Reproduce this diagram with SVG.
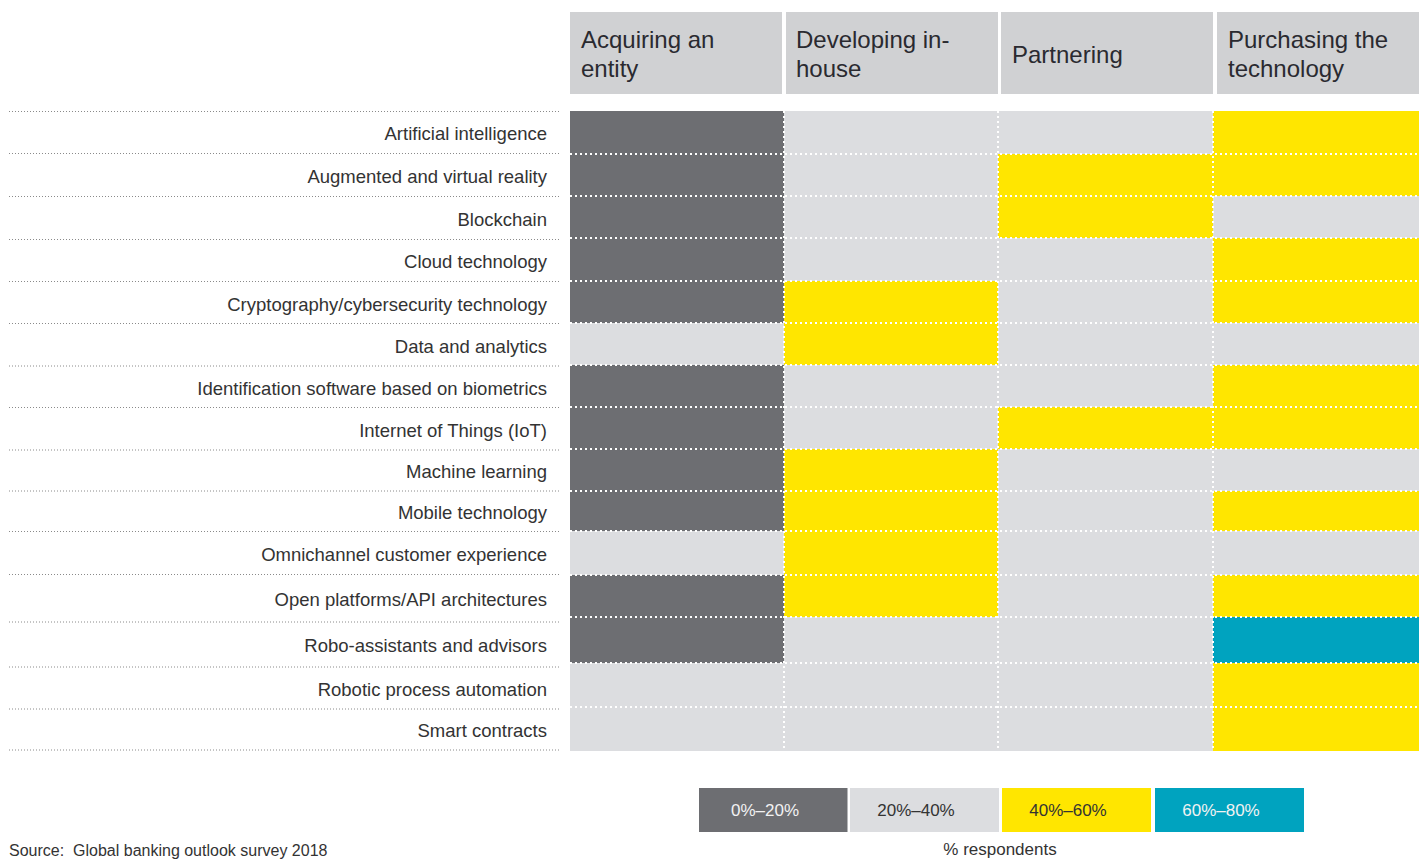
<svg xmlns="http://www.w3.org/2000/svg" width="1419" height="860" viewBox="0 0 1419 860">
<style>
.hdr{fill:#d0d1d3}
.ht{font-family:"Liberation Sans",Arial,sans-serif;font-size:24px;fill:#2a2a30}
.lbl{font-family:"Liberation Sans",Arial,sans-serif;font-size:18.5px;fill:#333333;text-anchor:end}
.D{fill:#6d6e72}
.L{fill:#dcdde0}
.Y{fill:#ffe600}
.T{fill:#00a3bf}
.gl{stroke:#ffffff;stroke-width:2;stroke-dasharray:2 3;fill:none}
.ll{stroke:#8a8a8a;stroke-width:1;stroke-dasharray:1 2;fill:none}
.lg{font-family:"Liberation Sans",Arial,sans-serif;font-size:17px;text-anchor:middle}
.src{font-family:"Liberation Sans",Arial,sans-serif;font-size:16px;fill:#333333}
</style>
<rect width="1419" height="860" fill="#ffffff"/>
<g id="headers">
  <g id="h-acquiring"><rect class="hdr" x="570" y="12" width="212" height="82"/><text class="ht" x="581" y="48">Acquiring an</text><text class="ht" x="581" y="77">entity</text></g>
  <g id="h-developing"><rect class="hdr" x="786" y="12" width="212" height="82"/><text class="ht" x="796" y="48">Developing in-</text><text class="ht" x="796" y="77">house</text></g>
  <g id="h-partnering"><rect class="hdr" x="1001" y="12" width="212" height="82"/><text class="ht" x="1012" y="63">Partnering</text></g>
  <g id="h-purchasing"><rect class="hdr" x="1217" y="12" width="202" height="82"/><text class="ht" x="1228" y="48">Purchasing the</text><text class="ht" x="1228" y="77">technology</text></g>
</g>
<g id="label-lines">
  <path class="ll" d="M9 111.5H560M9 153.5H560M9 196.5H560M9 239.5H560M9 281.5H560M9 323.5H560M9 366H560M9 407.5H560M9 450H560M9 491H560M9 531.5H560M9 574.5H560M9 622H560M9 667H560M9 709H560M9 750H560"/>
</g>
<g id="labels">
  <text class="lbl" x="547" y="140">Artificial intelligence</text>
  <text class="lbl" x="547" y="182.5">Augmented and virtual reality</text>
  <text class="lbl" x="547" y="225.5">Blockchain</text>
  <text class="lbl" x="547" y="268">Cloud technology</text>
  <text class="lbl" x="547" y="310.5">Cryptography/cybersecurity technology</text>
  <text class="lbl" x="547" y="352.5">Data and analytics</text>
  <text class="lbl" x="547" y="394.5">Identification software based on biometrics</text>
  <text class="lbl" x="547" y="436.5">Internet of Things (IoT)</text>
  <text class="lbl" x="547" y="478">Machine learning</text>
  <text class="lbl" x="547" y="518.5">Mobile technology</text>
  <text class="lbl" x="547" y="560.5">Omnichannel customer experience</text>
  <text class="lbl" x="547" y="605.5">Open platforms/API architectures</text>
  <text class="lbl" x="547" y="652">Robo-assistants and advisors</text>
  <text class="lbl" x="547" y="695.5">Robotic process automation</text>
  <text class="lbl" x="547" y="737">Smart contracts</text>
</g>
<g id="cells">
  <rect class="D" x="570" y="111" width="214" height="212"/>
  <rect class="L" x="570" y="323" width="214" height="42"/>
  <rect class="D" x="570" y="365" width="214" height="166"/>
  <rect class="L" x="570" y="531" width="214" height="44"/>
  <rect class="D" x="570" y="575" width="214" height="88"/>
  <rect class="L" x="570" y="663" width="214" height="88"/>
  <rect class="L" x="784" y="111" width="214" height="170"/>
  <rect class="Y" x="784" y="281" width="214" height="84"/>
  <rect class="L" x="784" y="365" width="214" height="84"/>
  <rect class="Y" x="784" y="449" width="214" height="168"/>
  <rect class="L" x="784" y="617" width="214" height="134"/>
  <rect class="L" x="998" y="111" width="215" height="43"/>
  <rect class="Y" x="998" y="154" width="215" height="84"/>
  <rect class="L" x="998" y="238" width="215" height="169"/>
  <rect class="Y" x="998" y="407" width="215" height="42"/>
  <rect class="L" x="998" y="449" width="215" height="302"/>
  <rect class="Y" x="1213" y="111" width="206" height="85"/>
  <rect class="L" x="1213" y="196" width="206" height="42"/>
  <rect class="Y" x="1213" y="238" width="206" height="85"/>
  <rect class="L" x="1213" y="323" width="206" height="42"/>
  <rect class="Y" x="1213" y="365" width="206" height="84"/>
  <rect class="L" x="1213" y="449" width="206" height="42"/>
  <rect class="Y" x="1213" y="491" width="206" height="40"/>
  <rect class="L" x="1213" y="531" width="206" height="44"/>
  <rect class="Y" x="1213" y="575" width="206" height="42"/>
  <rect class="T" x="1213" y="617" width="206" height="46"/>
  <rect class="Y" x="1213" y="663" width="206" height="88"/>
</g>
<g id="grid-lines">
  <path class="gl" d="M570 154H1419M570 196H1419M570 238H1419M570 281H1419M570 323H1419M570 365H1419M570 407H1419M570 449H1419M570 491H1419M570 531H1419M570 575H1419M570 617H1419M570 663H1419M570 707H1419"/>
  <path class="gl" d="M784 111V751M998 111V751M1213 111V751"/>
</g>
<g id="legend">
  <g id="lg-0-20"><rect class="D" x="699" y="788" width="148.5" height="44"/><text class="lg" x="765" y="816" fill="#f2f2f2">0%–20%</text></g>
  <g id="lg-20-40"><rect class="L" x="850" y="788" width="149" height="44"/><text class="lg" x="916" y="816" fill="#333333">20%–40%</text></g>
  <g id="lg-40-60"><rect class="Y" x="1002" y="788" width="149" height="44"/><text class="lg" x="1068" y="816" fill="#333333">40%–60%</text></g>
  <g id="lg-60-80"><rect class="T" x="1155" y="788" width="149" height="44"/><text class="lg" x="1221" y="816" fill="#f2f2f2">60%–80%</text></g>
  <text class="lg" x="1000" y="855" fill="#333333">% respondents</text>
</g>
<text class="src" x="9" y="855.5" xml:space="preserve">Source:  Global banking outlook survey 2018</text>
</svg>
